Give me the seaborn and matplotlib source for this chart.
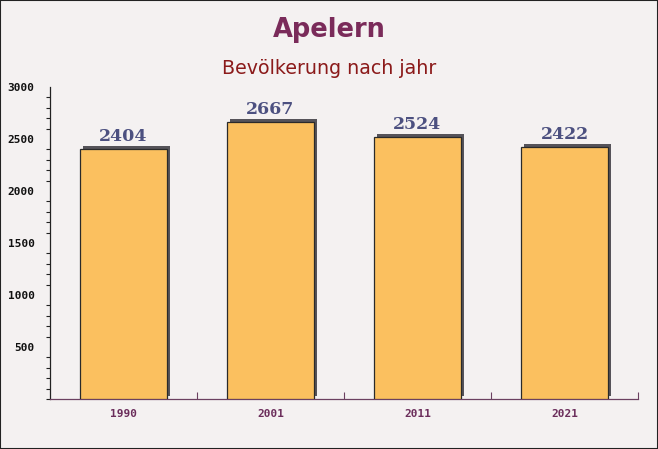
import numpy as np
import pandas as pd
import seaborn as sns
import matplotlib.pyplot as plt
import matplotlib.transforms as mtransforms
from matplotlib.ticker import MultipleLocator, FixedLocator

years = ["1990", "2001", "2011", "2021"]
population = [2404, 2667, 2524, 2422]

df = pd.DataFrame({"jahr": years, "einwohner": population})

sns.set_style("white")
fig = plt.figure(figsize=(6.58, 4.49), dpi=100)
fig.patch.set_facecolor("#f4f1f1")
ax = fig.add_axes([50 / 658, 1 - 399 / 449, 588 / 658, 312 / 449])
ax.set_facecolor("none")

# shadow bars, shifted right and up
sns.barplot(data=df, x="jahr", y="einwohner", color="#555359", width=0.59,
            saturation=1, ax=ax, zorder=2)
shift = mtransforms.ScaledTranslation(3 / 100, 3 / 100, fig.dpi_scale_trans)
for p in ax.patches:
    p.set_transform(ax.transData + shift)
    p.set_edgecolor("none")
n_shadow = len(ax.patches)

sns.barplot(data=df, x="jahr", y="einwohner", color="#fbc05f", width=0.59,
            saturation=1, ax=ax, zorder=3)
for p in ax.patches[n_shadow:]:
    p.set_edgecolor("#2a2a2a")
    p.set_linewidth(0.9)

for i, v in enumerate(population):
    ax.text(i, v + 35, str(v), ha="center", va="bottom", fontsize=12.5,
            fontweight="bold", color="#4c5080", family="DejaVu Serif", zorder=4)

ax.set_xlim(-0.5, 3.5)
ax.set_ylim(0, 3000)
ax.set_xlabel("")
ax.set_ylabel("")

ax.yaxis.set_major_locator(FixedLocator([500, 1000, 1500, 2000, 2500, 3000]))
ax.yaxis.set_minor_locator(MultipleLocator(100))
ax.tick_params(axis="y", which="major", direction="out", length=5, width=0.8,
               color="#222222", labelsize=8, pad=6)
ax.tick_params(axis="y", which="minor", direction="out", length=3, width=0.8,
               color="#222222", left=True)
for lab in ax.get_yticklabels():
    lab.set_family("DejaVu Sans Mono")
    lab.set_fontweight("bold")
    lab.set_color("#111111")

ax.xaxis.set_minor_locator(FixedLocator([0.5, 1.5, 2.5, 3.5]))
ax.tick_params(axis="x", which="major", length=0, labelsize=8, pad=7,
               labelcolor="#6b2d5b")
ax.tick_params(axis="x", which="minor", direction="in", length=5, width=0.8,
               color="#6b4060", bottom=True)
for lab in ax.get_xticklabels():
    lab.set_family("DejaVu Sans Mono")
    lab.set_fontweight("bold")

for s in ["top", "right"]:
    ax.spines[s].set_visible(False)
ax.spines["left"].set_color("#222222")
ax.spines["left"].set_linewidth(0.9)
ax.spines["bottom"].set_color("#6b4060")
ax.spines["bottom"].set_linewidth(0.9)

fig.text(0.5, 1 - 30 / 449, "Apelern", ha="center", va="center", fontsize=18.5,
         fontweight="bold", color="#7a2b5a")
fig.text(0.5, 1 - 69 / 449, "Bevölkerung nach jahr", ha="center", va="center",
         fontsize=13.7, color="#8b1a1a")

# thin dark frame round the figure
fig.patches.append(plt.Rectangle((0, 0), 1, 1, transform=fig.transFigure,
                                 fill=False, edgecolor="#222222", linewidth=1.5))

fig.savefig("out.png", dpi=100, facecolor=fig.get_facecolor())
